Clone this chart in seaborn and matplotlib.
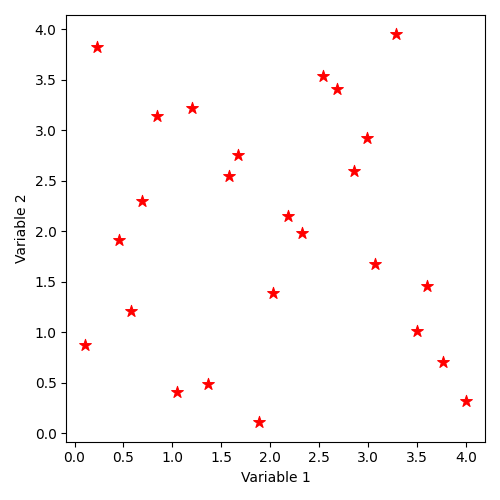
import matplotlib
matplotlib.use("Agg")
import matplotlib.pyplot as plt
import pandas as pd
import seaborn as sns

# values
var1 = [0.11, 0.23, 0.45, 0.58, 0.69, 0.84, 1.05, 1.20, 1.36, 1.58, 1.67, 1.89, 2.03,
        2.18, 2.32, 2.54, 2.68, 2.86, 2.99, 3.07, 3.28, 3.50, 3.60, 3.77, 4.00]
var2 = [0.88, 3.83, 1.91, 1.21, 2.30, 3.14, 0.41, 3.22, 0.49, 2.55, 2.76, 0.11, 1.39,
        2.15, 1.98, 3.54, 3.41, 2.60, 2.92, 1.68, 3.95, 1.01, 1.46, 0.71, 0.32]

df = pd.DataFrame({"Variable 1": var1, "Variable 2": var2})

fig, ax = plt.subplots(figsize=(5, 5), dpi=100)
sns.scatterplot(data=df, x="Variable 1", y="Variable 2", marker="*",
                color="red", edgecolor="red", s=80, ax=ax)

fig.tight_layout()
fig.savefig("out.png")
